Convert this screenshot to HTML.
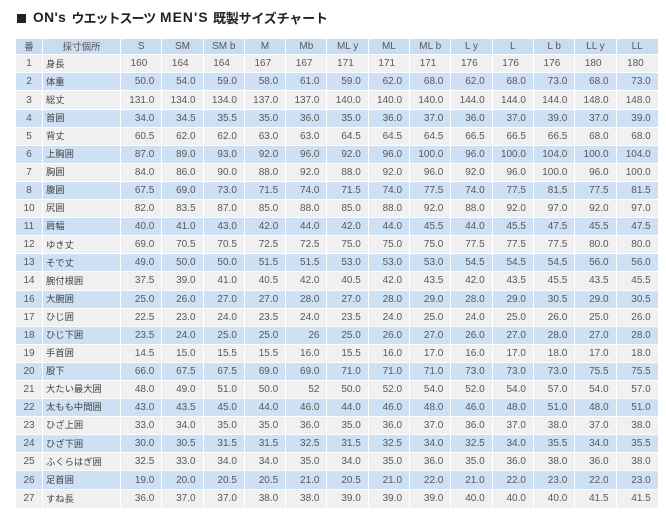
<!DOCTYPE html>
<html><head><meta charset="utf-8">
<style>
html,body{margin:0;padding:0;background:#fff;}
body{width:666px;height:519px;position:relative;overflow:hidden;font-family:"Liberation Sans","Noto Sans CJK JP",sans-serif;}
.sq{position:absolute;left:17px;top:14px;width:9px;height:9px;background:#222;}
.t{position:absolute;top:9px;font-weight:bold;color:#222;white-space:nowrap;line-height:18px;}
.lat{font-family:"Liberation Sans",sans-serif;font-size:13.8px;}
.cjk{font-family:"Noto Sans CJK JP",sans-serif;font-size:13px;}
.tb{position:absolute;left:16px;top:38.5px;width:642px;display:flex;flex-direction:column;gap:1px;}
.row{display:flex;gap:1px;height:17.1px;}
.row.h{height:15.8px;}
.row>div{flex:none;width:40.3px;height:100%;overflow:hidden;white-space:nowrap;font-size:10px;color:#595959;display:flex;align-items:center;justify-content:flex-end;padding-right:7px;box-sizing:border-box;}
.row>div:nth-child(1){width:26px;justify-content:center;padding:0;}
.row>div:nth-child(2){width:77px;justify-content:flex-start;padding:0 0 2.5px 3px;font-family:"Noto Sans CJK JP",sans-serif;font-size:9.3px;color:#444;}
.row>div:last-child{width:41.2px;}
.h>div{background:#c9ddf1;justify-content:center !important;padding:0 !important;}
.h>div:nth-child(1),.h>div:nth-child(2){font-family:"Noto Sans CJK JP",sans-serif;font-size:9.5px;color:#555;}
.g>div{background:#f0f0f0;}
.b>div{background:#cde0f4;}
.f>div{padding-right:14px;}
</style></head><body>
<div class="sq"></div>
<div class="t lat" style="left:33px;letter-spacing:0.4px;">ON's</div>
<div class="t cjk" style="left:71.5px;letter-spacing:-1px;top:8.5px;">ウエットスーツ</div>
<div class="t lat" style="left:160px;letter-spacing:1.1px;">MEN'S</div>
<div class="t cjk" style="left:213px;letter-spacing:-0.2px;top:8.5px;">既製サイズチャート</div>
<div class="tb">
<div class="row h"><div>番</div><div>採寸個所</div><div>S</div><div>SM</div><div>SM b</div><div>M</div><div>Mb</div><div>ML y</div><div>ML</div><div>ML b</div><div>L y</div><div>L</div><div>L b</div><div>LL y</div><div>LL</div></div>
<div class="row g f"><div>1</div><div>身長</div><div>160</div><div>164</div><div>164</div><div>167</div><div>167</div><div>171</div><div>171</div><div>171</div><div>176</div><div>176</div><div>176</div><div>180</div><div>180</div></div>
<div class="row b"><div>2</div><div>体重</div><div>50.0</div><div>54.0</div><div>59.0</div><div>58.0</div><div>61.0</div><div>59.0</div><div>62.0</div><div>68.0</div><div>62.0</div><div>68.0</div><div>73.0</div><div>68.0</div><div>73.0</div></div>
<div class="row g"><div>3</div><div>総丈</div><div>131.0</div><div>134.0</div><div>134.0</div><div>137.0</div><div>137.0</div><div>140.0</div><div>140.0</div><div>140.0</div><div>144.0</div><div>144.0</div><div>144.0</div><div>148.0</div><div>148.0</div></div>
<div class="row b"><div>4</div><div>首囲</div><div>34.0</div><div>34.5</div><div>35.5</div><div>35.0</div><div>36.0</div><div>35.0</div><div>36.0</div><div>37.0</div><div>36.0</div><div>37.0</div><div>39.0</div><div>37.0</div><div>39.0</div></div>
<div class="row g"><div>5</div><div>背丈</div><div>60.5</div><div>62.0</div><div>62.0</div><div>63.0</div><div>63.0</div><div>64.5</div><div>64.5</div><div>64.5</div><div>66.5</div><div>66.5</div><div>66.5</div><div>68.0</div><div>68.0</div></div>
<div class="row b"><div>6</div><div>上胸囲</div><div>87.0</div><div>89.0</div><div>93.0</div><div>92.0</div><div>96.0</div><div>92.0</div><div>96.0</div><div>100.0</div><div>96.0</div><div>100.0</div><div>104.0</div><div>100.0</div><div>104.0</div></div>
<div class="row g"><div>7</div><div>胸囲</div><div>84.0</div><div>86.0</div><div>90.0</div><div>88.0</div><div>92.0</div><div>88.0</div><div>92.0</div><div>96.0</div><div>92.0</div><div>96.0</div><div>100.0</div><div>96.0</div><div>100.0</div></div>
<div class="row b"><div>8</div><div>腹囲</div><div>67.5</div><div>69.0</div><div>73.0</div><div>71.5</div><div>74.0</div><div>71.5</div><div>74.0</div><div>77.5</div><div>74.0</div><div>77.5</div><div>81.5</div><div>77.5</div><div>81.5</div></div>
<div class="row g"><div>10</div><div>尻囲</div><div>82.0</div><div>83.5</div><div>87.0</div><div>85.0</div><div>88.0</div><div>85.0</div><div>88.0</div><div>92.0</div><div>88.0</div><div>92.0</div><div>97.0</div><div>92.0</div><div>97.0</div></div>
<div class="row b"><div>11</div><div>肩幅</div><div>40.0</div><div>41.0</div><div>43.0</div><div>42.0</div><div>44.0</div><div>42.0</div><div>44.0</div><div>45.5</div><div>44.0</div><div>45.5</div><div>47.5</div><div>45.5</div><div>47.5</div></div>
<div class="row g"><div>12</div><div>ゆき丈</div><div>69.0</div><div>70.5</div><div>70.5</div><div>72.5</div><div>72.5</div><div>75.0</div><div>75.0</div><div>75.0</div><div>77.5</div><div>77.5</div><div>77.5</div><div>80.0</div><div>80.0</div></div>
<div class="row b"><div>13</div><div>そで丈</div><div>49.0</div><div>50.0</div><div>50.0</div><div>51.5</div><div>51.5</div><div>53.0</div><div>53.0</div><div>53.0</div><div>54.5</div><div>54.5</div><div>54.5</div><div>56.0</div><div>56.0</div></div>
<div class="row g"><div>14</div><div>腕付根囲</div><div>37.5</div><div>39.0</div><div>41.0</div><div>40.5</div><div>42.0</div><div>40.5</div><div>42.0</div><div>43.5</div><div>42.0</div><div>43.5</div><div>45.5</div><div>43.5</div><div>45.5</div></div>
<div class="row b"><div>16</div><div>大腕囲</div><div>25.0</div><div>26.0</div><div>27.0</div><div>27.0</div><div>28.0</div><div>27.0</div><div>28.0</div><div>29.0</div><div>28.0</div><div>29.0</div><div>30.5</div><div>29.0</div><div>30.5</div></div>
<div class="row g"><div>17</div><div>ひじ囲</div><div>22.5</div><div>23.0</div><div>24.0</div><div>23.5</div><div>24.0</div><div>23.5</div><div>24.0</div><div>25.0</div><div>24.0</div><div>25.0</div><div>26.0</div><div>25.0</div><div>26.0</div></div>
<div class="row b"><div>18</div><div>ひじ下囲</div><div>23.5</div><div>24.0</div><div>25.0</div><div>25.0</div><div>26</div><div>25.0</div><div>26.0</div><div>27.0</div><div>26.0</div><div>27.0</div><div>28.0</div><div>27.0</div><div>28.0</div></div>
<div class="row g"><div>19</div><div>手首囲</div><div>14.5</div><div>15.0</div><div>15.5</div><div>15.5</div><div>16.0</div><div>15.5</div><div>16.0</div><div>17.0</div><div>16.0</div><div>17.0</div><div>18.0</div><div>17.0</div><div>18.0</div></div>
<div class="row b"><div>20</div><div>股下</div><div>66.0</div><div>67.5</div><div>67.5</div><div>69.0</div><div>69.0</div><div>71.0</div><div>71.0</div><div>71.0</div><div>73.0</div><div>73.0</div><div>73.0</div><div>75.5</div><div>75.5</div></div>
<div class="row g"><div>21</div><div>大たい最大囲</div><div>48.0</div><div>49.0</div><div>51.0</div><div>50.0</div><div>52</div><div>50.0</div><div>52.0</div><div>54.0</div><div>52.0</div><div>54.0</div><div>57.0</div><div>54.0</div><div>57.0</div></div>
<div class="row b"><div>22</div><div>太もも中間囲</div><div>43.0</div><div>43.5</div><div>45.0</div><div>44.0</div><div>46.0</div><div>44.0</div><div>46.0</div><div>48.0</div><div>46.0</div><div>48.0</div><div>51.0</div><div>48.0</div><div>51.0</div></div>
<div class="row g"><div>23</div><div>ひざ上囲</div><div>33.0</div><div>34.0</div><div>35.0</div><div>35.0</div><div>36.0</div><div>35.0</div><div>36.0</div><div>37.0</div><div>36.0</div><div>37.0</div><div>38.0</div><div>37.0</div><div>38.0</div></div>
<div class="row b"><div>24</div><div>ひざ下囲</div><div>30.0</div><div>30.5</div><div>31.5</div><div>31.5</div><div>32.5</div><div>31.5</div><div>32.5</div><div>34.0</div><div>32.5</div><div>34.0</div><div>35.5</div><div>34.0</div><div>35.5</div></div>
<div class="row g"><div>25</div><div>ふくらはぎ囲</div><div>32.5</div><div>33.0</div><div>34.0</div><div>34.0</div><div>35.0</div><div>34.0</div><div>35.0</div><div>36.0</div><div>35.0</div><div>36.0</div><div>38.0</div><div>36.0</div><div>38.0</div></div>
<div class="row b"><div>26</div><div>足首囲</div><div>19.0</div><div>20.0</div><div>20.5</div><div>20.5</div><div>21.0</div><div>20.5</div><div>21.0</div><div>22.0</div><div>21.0</div><div>22.0</div><div>23.0</div><div>22.0</div><div>23.0</div></div>
<div class="row g" style="height:18.5px"><div>27</div><div>すね長</div><div>36.0</div><div>37.0</div><div>37.0</div><div>38.0</div><div>38.0</div><div>39.0</div><div>39.0</div><div>39.0</div><div>40.0</div><div>40.0</div><div>40.0</div><div>41.5</div><div>41.5</div></div>
</div>
</body></html>
